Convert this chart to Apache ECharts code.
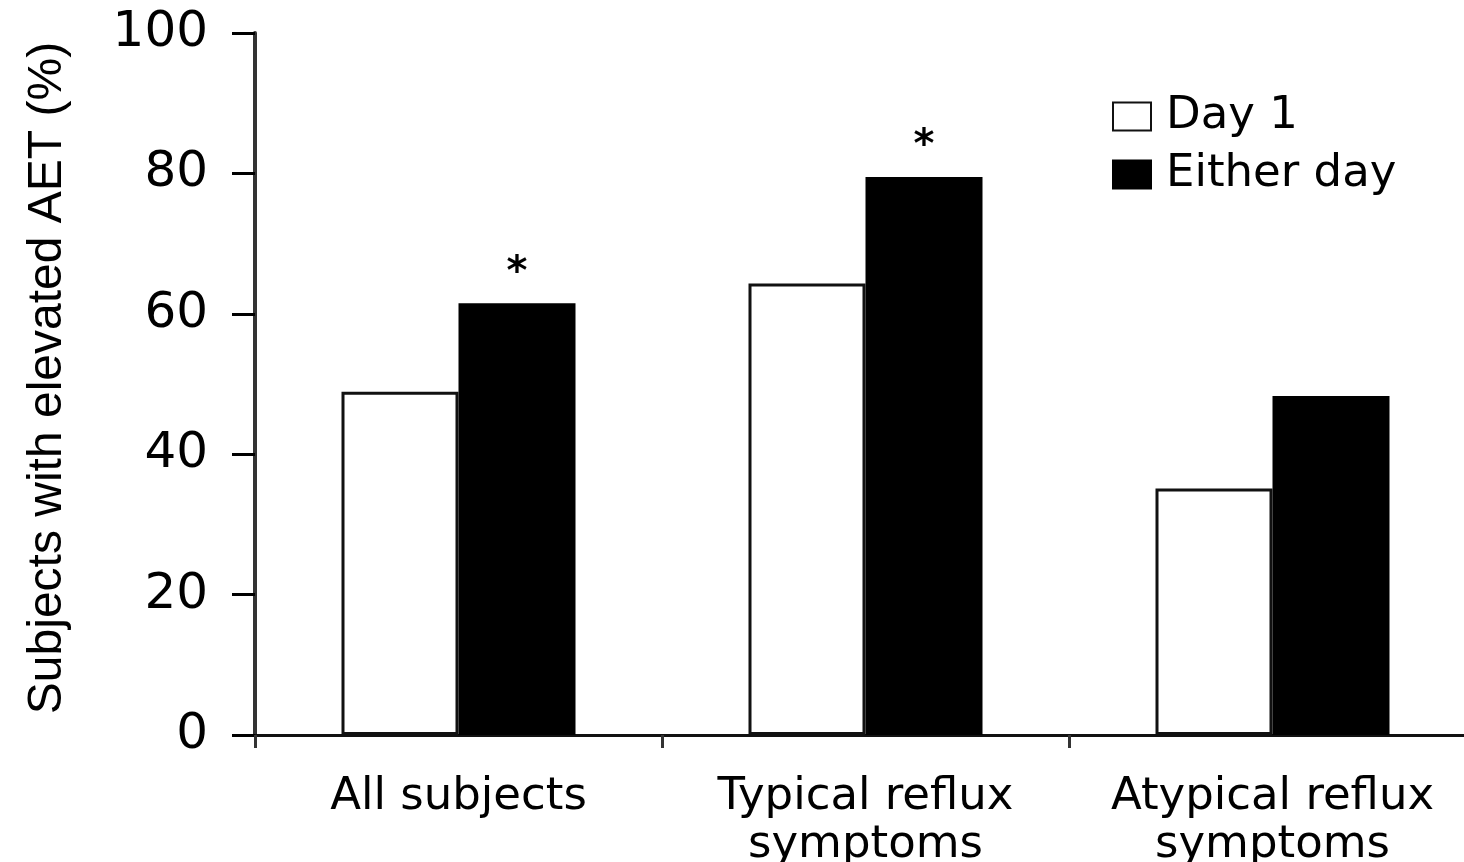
<!DOCTYPE html>
<html>
<head>
<meta charset="utf-8">
<title>Subjects with elevated AET</title>
<script src="https://cdn.jsdelivr.net/npm/echarts@6/dist/echarts.min.js"></script>
<style>
  html, body { margin: 0; padding: 0; background: #fff; }
  #chart { width: 1464px; height: 862px; }
</style>
</head>
<body>
<div id="chart"></div>
<script>
// Symptom groups on the x axis
const categories = ['All subjects', 'Typical reflux\nsymptoms', 'Atypical reflux\nsymptoms'];
// Percentage of subjects with elevated acid exposure time
const day1Values = [48.9, 64.3, 35.1];
const eitherDayValues = [61.5, 79.5, 48.3];
// Significance markers drawn above the "Either day" bars
const significance = ['*', '*', ''];
// Y axis ticks
const yTicks = [0, 20, 40, 60, 80, 100];

const chart = echarts.init(document.getElementById('chart'), null, { renderer: 'canvas' });

const textFont = 'DejaVu Sans';

chart.setOption({
  backgroundColor: '#ffffff',
  animation: false,
  grid: {
    left: 255, top: 33, width: 1221, height: 702,
    containLabel: false,
    outerBoundsMode: 'none'
  },
  legend: {
    orient: 'vertical',
    left: 1112,
    top: 94,
    padding: 0,
    icon: 'rect',
    itemWidth: 38,
    itemHeight: 28,
    itemGap: 13,
    selectedMode: false,
    data: ['Day 1', 'Either day'],
    textStyle: {
      fontFamily: textFont,
      fontSize: 45,
      color: '#000',
      padding: [0, 0, 0, 10]
    }
  },
  xAxis: {
    type: 'category',
    data: categories,
    axisLine: { show: true, lineStyle: { color: '#111', width: 3 } },
    axisTick: { show: true, length: 13, lineStyle: { color: '#333', width: 3 } },
    axisLabel: {
      interval: 0,
      margin: 38,
      fontFamily: textFont,
      fontSize: 45,
      lineHeight: 48,
      color: '#000'
    },
    splitLine: { show: false }
  },
  yAxis: {
    type: 'value',
    min: yTicks[0],
    max: yTicks[yTicks.length - 1],
    interval: yTicks[1] - yTicks[0],
    name: 'Subjects with elevated AET (%)',
    nameLocation: 'middle',
    nameGap: 183,
    nameTextStyle: {
      fontFamily: 'Liberation Sans',
      fontSize: 48,
      color: '#000',
      padding: [0, 0, 0, 12]
    },
    axisLine: { show: true, lineStyle: { color: '#333', width: 4 } },
    axisTick: { show: true, length: 23, lineStyle: { color: '#000', width: 3 } },
    axisLabel: {
      margin: 47,
      fontFamily: textFont,
      fontSize: 50,
      color: '#000',
      formatter: (v) => (yTicks.includes(v) ? String(v) : '')
    },
    splitLine: { show: false }
  },
  series: [
    {
      name: 'Day 1',
      type: 'bar',
      data: day1Values,
      barWidth: 117,
      barGap: '0%',
      itemStyle: { color: '#ffffff', borderColor: '#111', borderWidth: 3 }
    },
    {
      name: 'Either day',
      type: 'bar',
      data: eitherDayValues,
      barWidth: 117,
      barGap: '0%',
      itemStyle: { color: '#000000', borderColor: '#000', borderWidth: 3 },
      label: {
        show: true,
        position: 'top',
        distance: 10,
        fontFamily: textFont,
        fontSize: 40,
        fontWeight: 'bold',
        color: '#000',
        formatter: (p) => significance[p.dataIndex]
      }
    }
  ]
});
</script>
</body>
</html>
